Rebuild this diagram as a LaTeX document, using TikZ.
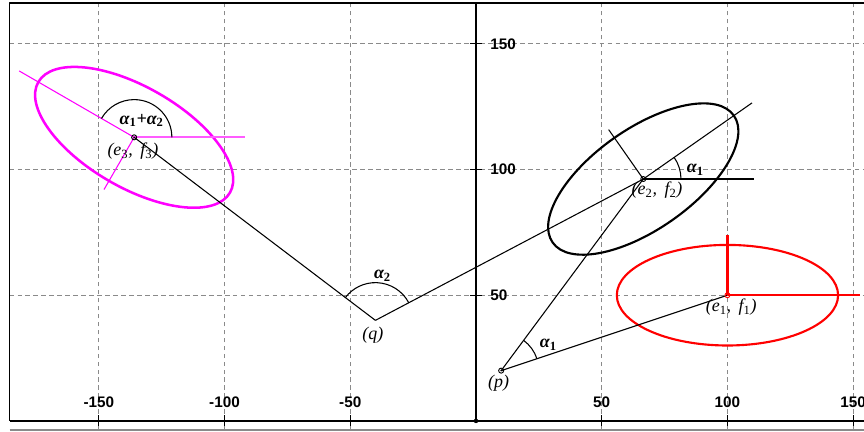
\documentclass[tikz,border=0pt]{standalone}
\usepackage{fontspec}
\setmainfont{Liberation Serif}
\setsansfont{Liberation Sans}
\usepackage{tikz}
\usetikzlibrary{calc}
\definecolor{rtGrid}{HTML}{8A8A8A}
\definecolor{rtRed}{HTML}{FF0000}
\definecolor{rtMagenta}{HTML}{FF00FF}
\definecolor{rtMagentaLight}{HTML}{FF5CFF}
\newcommand{\idx}[1]{\textsubscript{\upshape #1}}
\tikzset{
  rt plot/.style={line join=round},
  rt frame/.style={draw=black, line width=1.1pt},
  rt grid/.style={draw=rtGrid, line width=0.6pt, dash pattern=on 3.5pt off 2.5pt},
  rt axis/.style={draw=black, line width=1.3pt},
  rt tick/.style={draw=black, line width=0.8pt},
  rt num/.style={font=\sffamily\bfseries\fontsize{11.5}{12}\selectfont, inner sep=0pt},
  rt line/.style={draw=black, line width=0.8pt},
  rt red line/.style={draw=rtRed, line width=1.3pt},
  rt ellipse/.style={line width=1.6pt},
  rt dot/.style={draw=black, line width=0.7pt},
  rt label/.style={font=\itshape\fontsize{13.5}{14}\selectfont, inner sep=0pt},
  rt angle/.style={font=\bfseries\itshape\fontsize{13.5}{14}\selectfont, inner sep=0pt}
}

\begin{document}
\begin{tikzpicture}[rt plot,x=0.0665cm,y=0.0665cm]
\useasboundingbox (-189.3,-4.4) rectangle (154.3,167.4);
% frame and grid
\foreach \gx in {-150,-100,-50,50,100,150}
  \draw[rt grid] (\gx,-3.6) -- (\gx,166.2);
\foreach \gy in {50,100,150}
  \draw[rt grid] (-185.5,\gy) -- (156,\gy);
\draw[rt frame] (-185.5,0) -- (-185.5,166.2) -- (156,166.2);
\draw[draw=rtGrid, line width=0.9pt] (-185.5,-3.6) -- (156,-3.6);
\draw[rt axis] (-185.5,0) -- (156,0);
\draw[rt axis] (0,0) -- (0,166.2);
\foreach \gx in {-150,-100,-50,50,100,150}{
  \draw[rt tick] (\gx,-2.2) -- (\gx,2.2);
  \node[rt num] (xl\gx) at (\gx,7.4) {\gx};
}
\foreach \gy in {50,100,150}{
  \draw[rt tick] (-2.4,\gy) -- (2.4,\gy);
  \node[rt num,anchor=west] (yl\gy) at (5.6,\gy) {\gy};
}
\fill (0,0) circle (0.9);

% points
\coordinate (p) at (10,20);
\coordinate (q) at (-40,40);
\coordinate (e1) at (100,50);
\coordinate (e2) at ($(p)!1!35:(e1)$);
\coordinate (e3) at ($(q)!1!115:(e2)$);

% ellipses and their axes
\draw[rt ellipse, draw=rtRed] (e1) ellipse [x radius=44, y radius=20];
\draw[rt ellipse, rotate around={35:(e2)}] (e2) ellipse [x radius=44, y radius=20];
\draw[rt ellipse, draw=rtMagenta, line width=1.9pt, rotate around={150:(e3)}] (e3) ellipse [x radius=44, y radius=20];
\draw[rt line] (e2) -- ++(35:52.8) (e2) -- ++(125:24);
\draw[rt line, line width=1pt] (e2) -- ++(0:44);
\draw[rt line, draw=rtMagenta] (e3) -- ++(150:52.8) (e3) -- ++(240:24);
\draw[rt line, draw=rtMagentaLight, line width=1.4pt] (e3) -- ++(0:44);

% connectors
\draw[rt line] (p) -- (e1);
\draw[rt line] (p) -- (e2);
\draw[rt line] (q) -- (e2);
\draw[rt line] (q) -- (e3);
\draw[rt red line] (e1) -- ++(52.8,0);
\draw[rt red line, line width=1.6pt] (e1) -- ++(0,24);

% angles
\draw[rt line] ($(p)+(18.43:15)$) arc[start angle=18.43, end angle=53.43, radius=15];
\draw[rt line] ($(e2)+(15,0)$) arc[start angle=0, end angle=35, radius=15];
\draw[rt line] ($(q)+(27.82:15)$) arc[start angle=27.82, end angle=142.82, radius=15];
\draw[rt line] ($(e3)+(15,0)$) arc[start angle=0, end angle=150, radius=15];

\foreach \pt in {p,e2,e3}{
  \draw[rt dot] (\pt) circle (1);
  \fill (\pt) circle (0.35);
}
\draw[rt dot, draw=rtRed] (e1) circle (1);

% labels
\node[rt label] (lp) at ($(p)+(-1,-5)$) {(p)};
\node[rt label] (lq) at ($(q)+(-1,-6)$) {(q)};
\node[rt label] (le1) at ($(e1)+(1.5,-4.6)$) {(e\idx{1},\, f\idx{1})};
\node[rt label] (le2) at ($(e2)+(5.5,-4.4)$) {(e\idx{2},\, f\idx{2})};
\node[rt label] (le3) at ($(e3)+(-0.5,-5.6)$) {(e\idx{3},\, f\idx{3})};
\node[rt angle] (ap) at ($(p)+(18.8,10.2)$) {α\idx{1}};
\node[rt angle] (ae2) at ($(e2)+(20.7,3.7)$) {α\idx{1}};
\node[rt angle] (aq) at ($(q)+(2.8,17.9)$) {α\idx{2}};
\node[rt angle] (ae3) at ($(e3)+(3,6.7)$) {α\idx{1}+α\idx{2}};
\end{tikzpicture}
\end{document}
